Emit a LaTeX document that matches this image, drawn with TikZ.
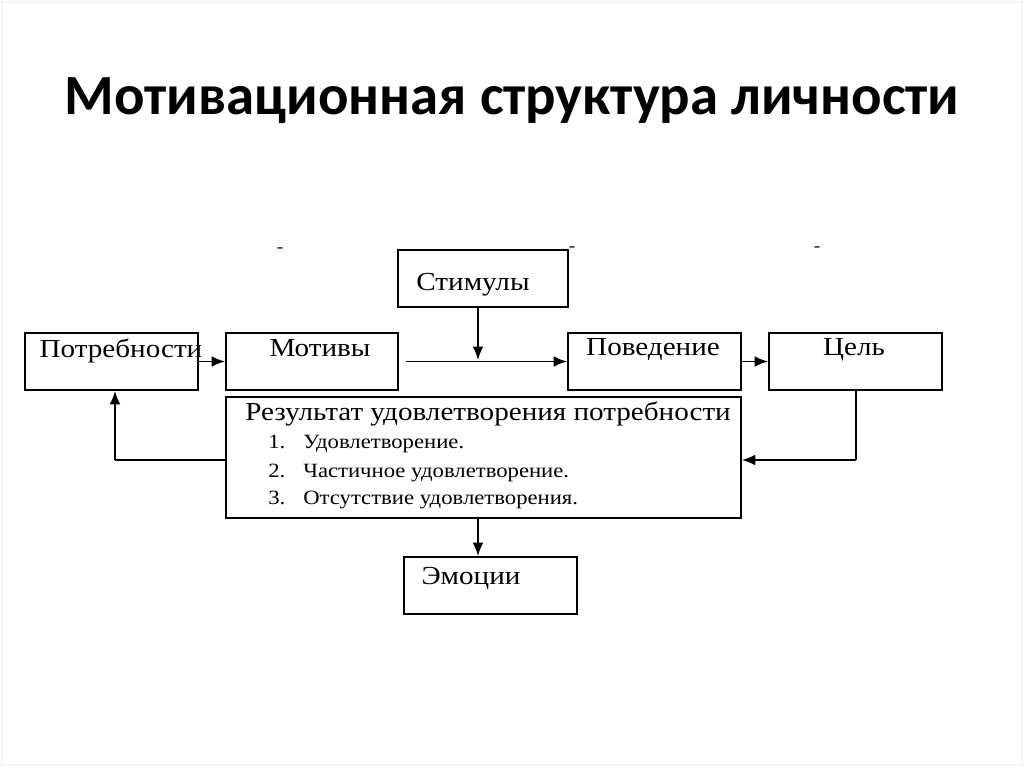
\documentclass[tikz,border=0pt]{standalone}
\usepackage{fontspec}
\setmainfont{Liberation Serif}[FakeStretch=1.12]
\newfontfamily\titlefont{Carlito}
\usetikzlibrary{arrows.meta}
\begin{document}
\begin{tikzpicture}[x=0.75pt,y=-0.75pt,
  box/.style={draw=black,line width=1.4pt,rectangle,inner sep=0pt,fill=none},
  lbl/.style={anchor=base,inner sep=0pt,font=\fontsize{19.5pt}{20pt}\selectfont},
  item/.style={anchor=base west,inner sep=0pt,font=\fontsize{15.2pt}{16pt}\selectfont},
  hyph/.style={inner sep=0pt,font=\fontsize{13pt}{13pt}\selectfont},
  arr/.style={line width=1.3pt,-{Latex[length=10pt,width=8pt]}},
  ln/.style={line width=1.3pt}]
\useasboundingbox (0,0) rectangle (1024,767);
\draw[black!4,line width=0.8pt] (2,2) rectangle (1022,765);
% title
\node[anchor=base,inner sep=0pt,font=\titlefont\bfseries\fontsize{42.6pt}{45pt}\selectfont] (title) at (512,114) {Мотивационная структура личности};
% stray dashes
\node[hyph] (d1) at (280,250) {-};
\node[hyph] (d2) at (572,249) {-};
\node[hyph] (d3) at (817,249) {-};
% boxes
\node[box,minimum width=129.75pt,minimum height=42.75pt] (potr) at (111.5,361.5) {};
\node[box,minimum width=129pt,minimum height=42.75pt] (motiv) at (312,361.5) {};
\node[box,minimum width=127.5pt,minimum height=42.75pt] (stim) at (483,278.5) {};
\node[box,minimum width=129.75pt,minimum height=42.75pt] (poved) at (654.5,361.5) {};
\node[box,minimum width=129.75pt,minimum height=42.75pt] (cel) at (855.5,361.5) {};
\node[box,minimum width=386.25pt,minimum height=90.75pt] (res) at (483.5,457.5) {};
\node[box,minimum width=129.75pt,minimum height=42.75pt] (emo) at (490.5,585.5) {};
% labels
\node[lbl] (potr-t) at (121,357) {Потребности};
\node[lbl] (motiv-t) at (320,356) {Мотивы};
\node[lbl] (stim-t) at (473,290) {Стимулы};
\node[lbl] (poved-t) at (653,355) {Поведение};
\node[lbl] (cel-t) at (854,355) {Цель};
\node[lbl] (emo-t) at (471,584) {Эмоции};
\node[lbl,anchor=base west] (res-t) at (245,420) {Результат удовлетворения потребности};
\node[item] (n1) at (268,448) {1.};
\node[item] (i1) at (303,448) {Удовлетворение.};
\node[item] (n2) at (268,477) {2.};
\node[item] (i2) at (303,477) {Частичное удовлетворение.};
\node[item] (n3) at (268,504) {3.};
\node[item] (i3) at (303,504) {Отсутствие удовлетворения.};
% junction coordinates
\coordinate (j) at (478,360);
\coordinate (c1) at (856,460);
\coordinate (c2) at (115,460);
% connectors
\draw[arr] (potr.east) -- (motiv.west);
\draw[arr,shorten <=5pt] (motiv.east) -- (poved.west);
\draw[arr] (stim.south -| j) -- (j);
\draw[arr] (poved.east) -- (cel.west);
\draw[ln] (cel.south -| c1) -- (c1);
\draw[arr] (c1) -- (res.east |- c1);
\draw[ln] (res.west |- c2) -- (c2);
\draw[arr] (c2) -- (potr.south -| c2);
\draw[arr] (res.south -| j) -- (emo.north -| j);
\end{tikzpicture}
\end{document}
